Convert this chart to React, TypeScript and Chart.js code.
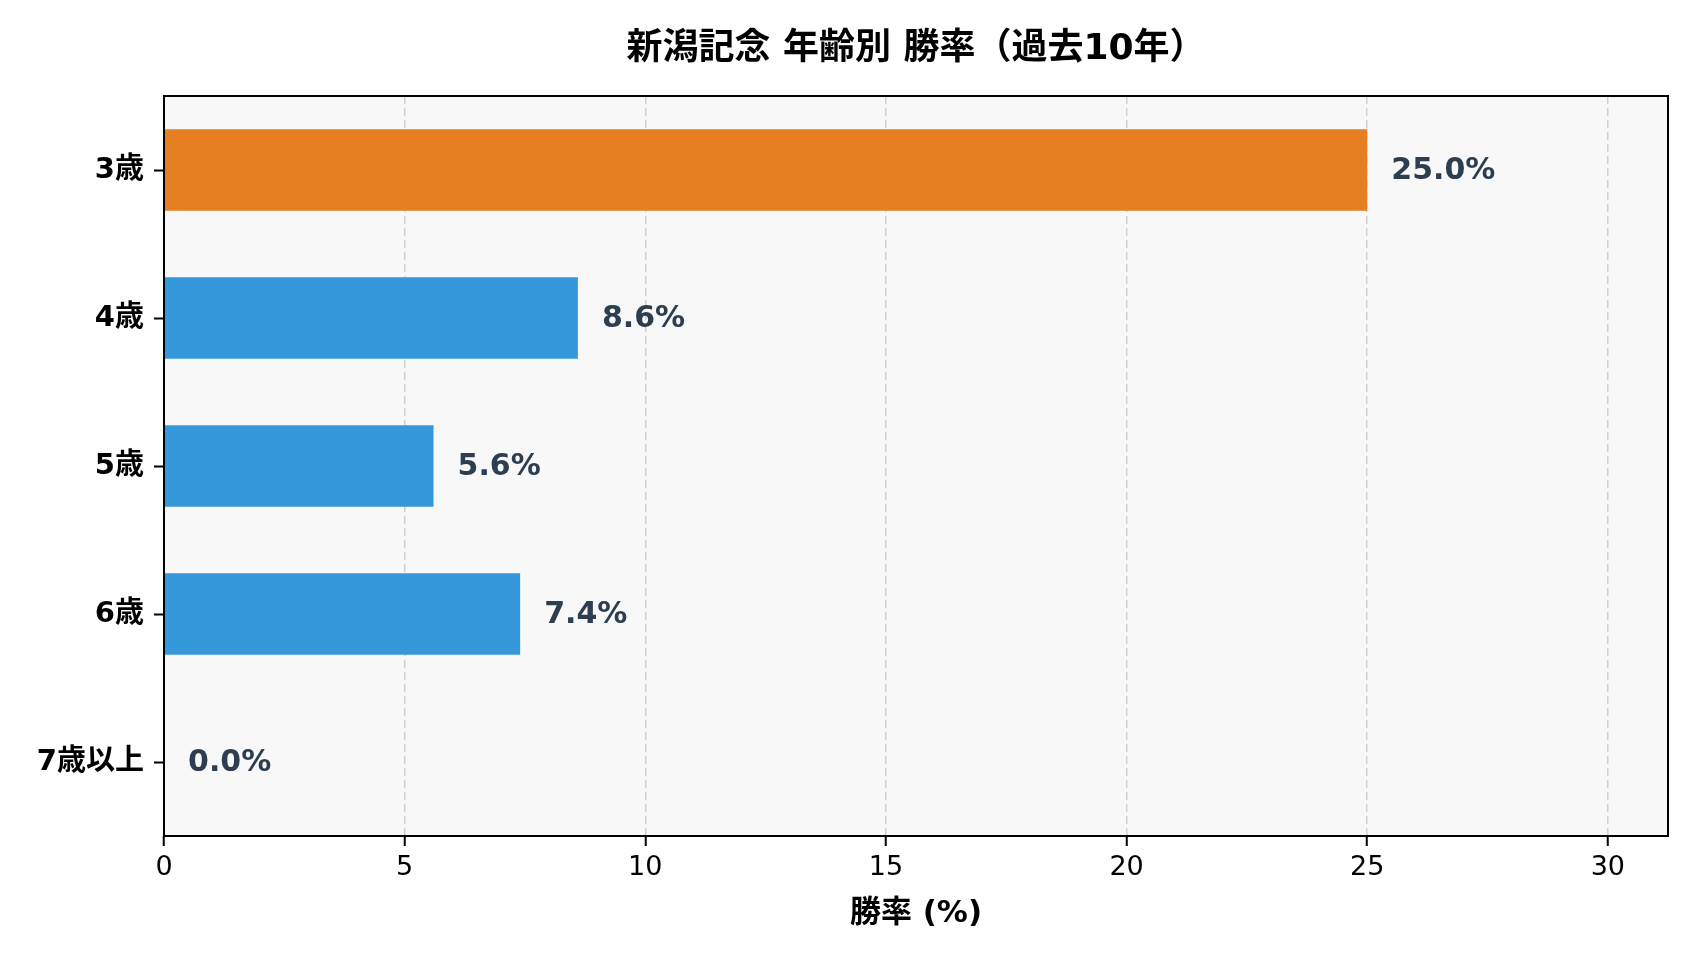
import { useEffect, useRef } from 'react'
import { Chart, registerables } from 'chart.js'

Chart.register(...registerables)

const ageLabels = ['3歳', '4歳', '5歳', '6歳', '7歳以上']
const winRates = [25.0, 8.6, 5.6, 7.4, 0.0]
const barColors = ['#e67e22', '#3498db', '#3498db', '#3498db', '#3498db']
const xTicks = [0, 5, 10, 15, 20, 25, 30]

const chartTitle = '新潟記念 年齢別 勝率（過去10年）'
const xAxisTitle = '勝率 (%)'
const FONT = '"DejaVu Sans", "Noto Sans CJK JP", sans-serif'

export default function App() {
  const canvasRef = useRef<HTMLCanvasElement>(null)
  const chartRef = useRef<Chart<'bar'> | null>(null)

  useEffect(() => {
    if (!canvasRef.current) return
    if (chartRef.current) chartRef.current.destroy()
    const ctx = canvasRef.current.getContext('2d')
    if (!ctx) return

    Chart.defaults.font.family = FONT

    // 背景・枠線・タイトル・数値ラベルをまとめて描く
    const decor = {
      id: 'decor',
      beforeDraw(chart: Chart) {
        const { ctx, chartArea: a } = chart
        ctx.save()
        ctx.fillStyle = '#ffffff'
        ctx.fillRect(0, 0, chart.width, chart.height)
        ctx.fillStyle = '#f8f8f8'
        ctx.fillRect(a.left, a.top, a.right - a.left, a.bottom - a.top)
        ctx.restore()
      },
      afterDraw(chart: Chart) {
        const { ctx, chartArea: a } = chart
        const xs = chart.scales.x
        ctx.save()
        ctx.strokeStyle = '#000000'
        ctx.lineWidth = 2
        ctx.strokeRect(a.left, a.top, a.right - a.left, a.bottom - a.top)

        ctx.fillStyle = '#000000'
        ctx.textAlign = 'center'
        ctx.textBaseline = 'middle'
        ctx.font = `bold 36px ${FONT}`
        ctx.fillText(chartTitle, (a.left + a.right) / 2, 50)
        ctx.font = `bold 31px ${FONT}`
        ctx.fillText(xAxisTitle, (a.left + a.right) / 2, 914)

        const meta = chart.getDatasetMeta(0)
        ctx.fillStyle = '#2c3e50'
        ctx.textAlign = 'left'
        ctx.font = `bold 30px ${FONT}`
        winRates.forEach((v, i) => {
          const el = meta.data[i] as any
          ctx.fillText(`${v.toFixed(1)}%`, xs.getPixelForValue(v + 0.5), el.y + 1)
        })
        ctx.restore()
      },
    }

    chartRef.current = new Chart(ctx, {
      type: 'bar',
      data: {
        labels: ageLabels,
        datasets: [
          {
            label: '勝率',
            data: winRates,
            backgroundColor: barColors,
            borderWidth: 0,
            barPercentage: 0.55,
            categoryPercentage: 1,
          },
        ],
      },
      options: {
        indexAxis: 'y',
        responsive: false,
        devicePixelRatio: 1,
        animation: false,
        layout: { padding: { top: 96, right: 32, left: 0, bottom: 0 } },
        plugins: {
          legend: { display: false },
          title: { display: false },
          tooltip: { enabled: false },
        },
        scales: {
          x: {
            type: 'linear',
            min: 0,
            max: 31.25,
            afterBuildTicks: (scale: any) => {
              scale.ticks = xTicks.map((value) => ({ value }))
            },
            afterFit: (scale: any) => {
              scale.height = 124
            },
            grid: {
              color: '#d0d0d0',
              lineWidth: 1.5,
              drawOnChartArea: true,
              drawTicks: true,
              tickLength: 10,
              tickColor: '#000000',
              tickWidth: 2,
              tickBorderDash: [],
            } as any,
            border: { display: false, dash: [8, 4] },
            ticks: {
              color: '#000000',
              padding: 6,
              font: { size: 27, family: FONT },
            },
          },
          y: {
            type: 'category',
            offset: true,
            afterFit: (scale: any) => {
              scale.width = 164
            },
            grid: {
              offset: false,
              drawOnChartArea: false,
              drawTicks: true,
              tickLength: 10,
              tickColor: '#000000',
              tickWidth: 2,
            },
            border: { display: false },
            ticks: {
              color: '#000000',
              padding: 10,
              font: { size: 29, weight: 'bold', family: FONT },
            },
          },
        },
      },
      plugins: [decor],
    })

    return () => {
      if (chartRef.current) {
        chartRef.current.destroy()
        chartRef.current = null
      }
    }
  }, [])

  return (
    <div style={{ position: 'absolute', left: 0, top: 0, width: 1700, height: 960, background: '#fff' }}>
      <canvas ref={canvasRef} width={1700} height={960}></canvas>
    </div>
  )
}
